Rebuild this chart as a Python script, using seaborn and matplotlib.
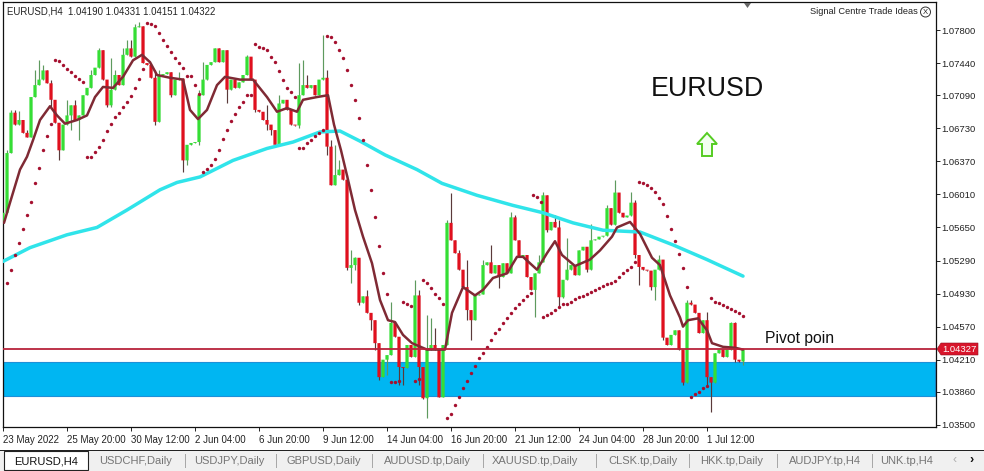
import numpy as np
import pandas as pd
import matplotlib
matplotlib.use("Agg")
import matplotlib.pyplot as plt
from matplotlib.patches import Rectangle, Polygon, Circle
import seaborn as sns

FIRST_OPEN = 1.0570
closes = [
 1.0581,1.0646,1.0690,1.0677,1.0682,1.0668,1.0663,1.0707,1.0720,1.0726,1.0736,1.0722,1.0704,1.0679,1.0649,1.0677,
 1.0687,1.0698,1.0682,1.0687,1.0709,1.0717,1.0731,1.0739,1.0758,1.0726,1.0698,1.0715,1.0731,1.0720,1.0753,1.0760,
 1.0751,1.0783,1.0784,1.0744,1.0742,1.0728,1.0680,1.0731,1.0732,1.0734,1.0709,1.0726,1.0727,1.0638,1.0655,1.0657,
 1.0658,1.0709,1.0726,1.0742,1.0745,1.0760,1.0745,1.0758,1.0715,1.0726,1.0717,1.0723,1.0731,1.0751,1.0726,1.0693,
 1.0691,1.0682,1.0677,1.0671,1.0655,1.0700,1.0704,1.0693,1.0677,1.0676,1.0709,1.0720,1.0717,1.0720,1.0709,1.0726,
 1.0728,1.0653,1.0611,1.0622,1.0628,1.0617,1.0521,1.0524,1.0532,1.0483,1.0490,1.0472,1.0464,1.0439,1.0402,1.0421,
 1.0426,1.0461,1.0446,1.0413,1.0412,1.0437,1.0424,1.0491,1.0413,1.0379,1.0432,1.0437,1.0432,1.0380,1.0437,1.0570,
 1.0551,1.0537,1.0519,1.0500,1.0475,1.0464,1.0491,1.0492,1.0524,1.0527,1.0515,1.0524,1.0511,1.0526,1.0515,1.0576,
 1.0551,1.0533,1.0535,1.0511,1.0497,1.0515,1.0527,1.0600,1.0562,1.0571,1.0565,1.0489,1.0508,1.0519,1.0524,1.0513,
 1.0540,1.0544,1.0519,1.0551,1.0552,1.0555,1.0556,1.0586,1.0568,1.0603,1.0581,1.0576,1.0578,1.0592,1.0535,1.0522,
 1.0519,1.0518,1.0500,1.0519,1.0530,1.0445,1.0437,1.0448,1.0453,1.0432,1.0396,1.0483,1.0481,1.0472,1.0450,1.0464,
 1.0402,1.0396,1.0428,1.0432,1.0424,1.0432,1.0461,1.0421,1.04190,1.04322]

high_bars = [1,2,3,4,6,8,9,10,12,16,18,22,24,25,27,28,30,31,32,33,34,38,39,44,45,49,50,53,56,61,66,69,74,75,76,80,81,
             82,83,84,86,87,88,91,97,103,104,106,107,108,111,112,114,116,120,122,127,128,134,135,136,138,139,141,147,
             151,153,154,157,158,164,171,172,176,182,183,185]
high_vals = [1.0649,1.0693,1.0693,1.0692,1.0671,1.0736,1.0747,1.0742,1.0726,1.0704,1.0704,1.0736,1.0760,1.0758,1.0750,
             1.0736,1.0760,1.0769,1.0769,1.0787,1.0789,1.0736,1.0736,1.0734,1.0728,1.0715,1.0745,1.0755,1.0758,1.0753,
             1.0698,1.0709,1.0744,1.0747,1.0731,1.0775,1.0736,1.0660,1.0655,1.0638,1.0622,1.0540,1.0533,1.0497,1.0484,
             1.0508,1.0497,1.0470,1.0466,1.0455,1.0573,1.0603,1.0540,1.0530,1.0530,1.0546,1.0582,1.0579,1.0535,1.0604,
             1.0586,1.0579,1.0573,1.0553,1.0569,1.0589,1.0617,1.0600,1.0604,1.0595,1.0535,1.0486,1.0486,1.0473,1.0462,1.0462,1.04331]

low_bars = [6,7,12,14,15,17,19,26,27,38,42,45,46,49,56,63,66,67,68,69,74,81,86,87,88,89,92,93,94,96,99,100,104,105,106,
            109,116,117,124,133,136,139,140,146,158,159,162,163,165,170,176,177,183,185]
low_vals = [1.0663,1.0663,1.0695,1.0638,1.0649,1.0671,1.0660,1.0696,1.0696,1.0677,1.0707,1.0625,1.0633,1.0655,1.0700,
            1.0691,1.0671,1.0666,1.0654,1.0654,1.0673,1.0644,1.0519,1.0504,1.0519,1.0481,1.0453,1.0432,1.0399,1.0404,
            1.0393,1.0393,1.0393,1.0378,1.0357,1.0380,1.0464,1.0442,1.0499,1.0467,1.0560,1.0477,1.0488,1.0516,1.0532,
            1.0502,1.0497,1.0486,1.0442,1.0393,1.0393,1.0364,1.0418,1.04151]

ma_bars = [0.25,1.75,4.25,6,7.5,9.25,11.75,13.5,15.5,18.5,21,23,25,27.5,30,32.5,34.75,36.75,38.5,41.75,45,46.75,48.75,51,
           53.5,55.5,59.25,62.5,66,68.5,71,73.5,75,78.5,81.25,82.75,84.5,86.25,88,90,92.25,94.25,96.25,98,100,102.25,
           106,110.5,112.25,115,118,120,122.5,126,128.5,130,133.5,136,138,139.75,143,146.75,149.25,152.25,153.5,156.75,
           159.25,162.25,164.25,166.75,169.25,170,171.25,173.75,176,177.25,180,183,185]
ma_vals = [1.0570,1.0592,1.0628,1.0642,1.0660,1.0682,1.0697,1.0687,1.0678,1.0682,1.0687,1.0707,1.0718,1.0717,1.0729,1.0747,
           1.0753,1.0745,1.0731,1.0728,1.0726,1.0693,1.0683,1.0693,1.0720,1.0729,1.0726,1.0726,1.0707,1.0691,1.0695,1.0691,
           1.0704,1.0707,1.0709,1.0677,1.0649,1.0617,1.0584,1.0555,1.0526,1.0486,1.0464,1.0462,1.0448,1.0439,1.0432,1.0432,
           1.0472,1.0500,1.0491,1.0497,1.0510,1.0515,1.0533,1.0533,1.0519,1.0537,1.0550,1.0535,1.0523,1.0530,1.0540,1.0555,
           1.0565,1.0571,1.0558,1.0532,1.0524,1.0491,1.0467,1.0457,1.0464,1.0466,1.0453,1.0439,1.0435,1.0434,1.0432]

slow_bars = [0,6.75,16,23.5,31,39.25,43.5,49.25,57.5,66,72.5,79.25,84.25,89.25,95.5,103.5,109.75,118.5,127.5,135,142.5,150,
             159.25,167.5,176,185]
slow_vals = [1.0528,1.0543,1.0557,1.0565,1.0584,1.0606,1.0614,1.0620,1.0638,1.0651,1.0658,1.0669,1.0670,1.0659,1.0644,1.0628,
             1.0613,1.0600,1.0589,1.0581,1.0570,1.0562,1.0560,1.0546,1.0530,1.0512]

sar_starts = [1,13,21,36,50,63,74,81,97,100,103,105,111,132.5,135,159,172,177]
sar_runs = [
 [1.0504,1.0519,1.0535,1.0548,1.0563,1.0579,1.0593,1.0613,1.0630,1.0649,1.0665,1.0678],
 [1.0747,1.0746,1.0742,1.0738,1.0734,1.0730,1.0727,1.0723],
 [1.0642,1.0642,1.0647,1.0653,1.0660,1.0670,1.0678,1.0685,1.0690,1.0696,1.0702,1.0708,1.0717,1.0727,1.0738],
 [1.0788,1.0787,1.0784,1.0777,1.0769,1.0763,1.0756,1.0750,1.0744,1.0739,1.0730,1.0730,1.0720,1.0710],
 [1.0625,1.0629,1.0633,1.0640,1.0649,1.0661,1.0671,1.0681,1.0689,1.0696,1.0702,1.0709,1.0709],
 [1.0765,1.0761,1.0760,1.0758,1.0751,1.0745,1.0735,1.0726,1.0717,1.0712,1.0707],
 [1.0651,1.0651,1.0657,1.0660,1.0665,1.0668,1.0671],
 [1.0773,1.0772,1.0767,1.0758,1.0750,1.0736,1.0720,1.0704,1.0684,1.0660,1.0633,1.0606,1.0576,1.0545,1.0515,1.0492],
 [1.0397,1.0397,1.0398],
 [1.0484,1.0482,1.0479],
 [1.0398,1.0400],
 [1.0508,1.0504,1.0499,1.0492,1.0488,1.0482],
 [1.0357,1.0362,1.0372,1.0380,1.0390,1.0398,1.0406,1.0414,1.0423,1.0428,1.0435,1.0442,1.0450,1.0454,1.0461,1.0466,1.0472,
  1.0477,1.0482,1.0486,1.0490,1.0494],
 [1.0600,1.0598,1.0593],
 [1.0467,1.0470,1.0472,1.0475,1.0478,1.0482,1.0482,1.0484,1.0487,1.0489,1.0490,1.0493,1.0495,1.0497,1.0499,1.0501,1.0503,
  1.0504,1.0507,1.0511,1.0515,1.0519,1.0522,1.0527],
 [1.0614,1.0613,1.0611,1.0608,1.0604,1.0597,1.0590,1.0578,1.0563,1.0550,1.0536,1.0521,1.0500],
 [1.0380,1.0384,1.0386,1.0390,1.0392],
 [1.0488,1.0484,1.0483,1.0481,1.0478,1.0476,1.0474,1.0472,1.0469],
]

pivot = 1.04327
zone_low, zone_high = 1.0381, 1.0419
price_ticks = [1.0780,1.0744,1.0709,1.0673,1.0637,1.0601,1.0565,1.0529,1.0493,1.0457,1.0421,1.0386,1.0350]
price_labels = ["1.07800","1.07440","1.07090","1.06730","1.06370","1.06010","1.05650","1.05290","1.04930","1.04570",
                "1.04210","1.03860","1.03500"]
date_labels = ["23 May 2022","25 May 20:00","30 May 12:00","2 Jun 04:00","6 Jun 20:00","9 Jun 12:00","14 Jun 04:00",
               "16 Jun 20:00","21 Jun 12:00","24 Jun 04:00","28 Jun 20:00","1 Jul 12:00"]
date_bars = [0,16,32,48,64,80,96,112,128,144,160,176]
tab_labels = ["USDCHF,Daily","USDJPY,Daily","GBPUSD,Daily","AUDUSD.tp,Daily","XAUUSD.tp,Daily","CLSK.tp,Daily",
              "HKK.tp,Daily","AUDJPY.tp,H4","UNK.tp,H4"]
tab_centres = [136,229,324,427,535,643,732,825,907]
tab_seps = [185,276,372,483,596,689,777,872]

sns.set_theme(style="white")
plt.rcParams["font.family"] = ["Liberation Sans", "DejaVu Sans"]

W, H = 984, 471
fig = plt.figure(figsize=(W/100, H/100), dpi=100, facecolor="white")
L, R, T, B = 2.5, 936, 2, 427
ax = fig.add_axes([L/W, (H-B)/H, (R-L)/W, (B-T)/H])
ax.set_xlim(-0.125, 233.25)
ax.set_ylim(1.03477, 1.08105)

def fx(x): return x/W
def fy(y): return 1-y/H

# demand zone and pivot
ax.axhspan(zone_low, zone_high, xmin=0.001, xmax=0.9985, facecolor="#00B6F2", edgecolor="#1E90D8", lw=0.8, zorder=1)

# candles
c = np.array(closes)
o = np.r_[FIRST_OPEN, c[:-1]]
o[-1] = 1.04190
idx = np.arange(len(c))
hi = np.maximum(o, c); lo = np.minimum(o, c)
hi[high_bars] = np.maximum(hi[high_bars], high_vals)
lo[low_bars] = np.minimum(lo[low_bars], low_vals)
up = c >= o
ax.vlines(idx[up], lo[up], hi[up], color="#5E9A5E", lw=0.85, zorder=2)
ax.vlines(idx[~up], lo[~up], hi[~up], color="#5A3A3A", lw=0.85, zorder=2)
bull = ax.bar(idx[up], (c-o)[up], bottom=o[up], width=0.8, color="#35DE35", lw=0, zorder=3)
bear = ax.bar(idx[~up], (c-o)[~up], bottom=o[~up], width=0.8, color="#E0101E", lw=0, zorder=3)
for p in list(bull) + list(bear):
    p.set_snap(False)

# indicators
sns.lineplot(x=slow_bars, y=slow_vals, ax=ax, color="#30E4EA", lw=2.5, estimator=None, zorder=4)
sns.lineplot(x=ma_bars, y=ma_vals, ax=ax, color="#7F2A34", lw=1.8, estimator=None, zorder=5)
sar_x, sar_y = [], []
for s, run in zip(sar_starts, sar_runs):
    sar_x += [s + k for k in range(len(run))]
    sar_y += run
sns.scatterplot(x=sar_x, y=sar_y, ax=ax, color="#A5102F", s=6, linewidth=0, zorder=6)

ax.axhline(pivot, color="#B8233A", lw=1.3, zorder=7)

# axes
ax.yaxis.tick_right()
ax.set_yticks(price_ticks); ax.set_yticklabels(price_labels)
ax.set_xticks(date_bars); ax.set_xticklabels(date_labels, ha="left")
ax.tick_params(axis="y", length=3, width=0.7, pad=1, labelsize=6.8, colors="#222222", right=True)
ax.tick_params(axis="x", length=3, width=0.7, pad=3, labelsize=7.0, colors="#222222", bottom=True)
for sp in ax.spines.values():
    sp.set_visible(True); sp.set_color("#111111"); sp.set_linewidth(0.9)
ax.set_xlabel(""); ax.set_ylabel("")
ax.grid(False)

# annotations
fig.text(fx(7), fy(11), "EURUSD,H4  1.04190 1.04331 1.04151 1.04322", fontsize=6.9, color="#222222", va="center")
fig.text(fx(918), fy(12), "Signal Centre Trade Ideas", fontsize=6.7, color="#222222", va="center", ha="right")
fig.text(fx(925.5), fy(12), "X", fontsize=5.5, color="#222222", va="center", ha="center")
fig.add_artist(Circle((925.5, H-12), 5, transform=None, fill=False, ec="#333333", lw=0.7))
fig.text(fx(707), fy(88.5), "EURUSD", fontsize=19.3, color="#111111", va="center", ha="center")
fig.text(fx(799.5), fy(338), "Pivot poin", fontsize=11.3, color="#111111", va="center", ha="center")

# green hollow arrow
arrow = [(707,133),(717,144),(712,144),(712,156),(702,156),(702,144),(697,144)]
fig.add_artist(Polygon([(x, H-y) for x, y in arrow], closed=True, transform=None, facecolor="#F2FFF0",
                       edgecolor="#55CC22", lw=1.4))
# small marker at the top
fig.add_artist(Polygon([(744, H-3),(751, H-3),(747.5, H-8)], closed=True, transform=None, facecolor="#666666", edgecolor="none"))

# current price flag
fig.add_artist(Polygon([(937, H-349),(941, H-343),(978, H-343),(978, H-355),(941, H-355)], closed=True, transform=None,
                       facecolor="#D8152B", edgecolor="#901020", lw=0.4, zorder=8))
fig.text(fx(959), fy(349), "1.04327", fontsize=6.8, color="white", va="center", ha="center", zorder=9)

# tab strip
fig.add_artist(Rectangle((0, 0), W, H-450.5, transform=None, facecolor="#F0F0F0", edgecolor="none"))
fig.add_artist(Rectangle((0, H-450.5), W, 1, transform=None, facecolor="#222222", edgecolor="none"))
fig.add_artist(Rectangle((4, H-470), 84, 19.5, transform=None, facecolor="white", edgecolor="#222222", lw=0.8))
fig.text(fx(46), fy(461), "EURUSD,H4", fontsize=8, color="#111111", va="center", ha="center")
for t, cx in zip(tab_labels, tab_centres):
    fig.text(fx(cx), fy(461), t, fontsize=8, color="#757575", va="center", ha="center")
for sx in tab_seps:
    fig.add_artist(Rectangle((sx, H-468), 1, 14, transform=None, facecolor="#A8A8A8", edgecolor="none"))
fig.text(fx(955), fy(460), "\u2039", fontsize=9, color="#B0B0B0", va="center", ha="center")
fig.text(fx(972), fy(460), "\u203A", fontsize=9, color="#111111", va="center", ha="center", fontweight="bold")

fig.savefig("out.png", dpi=100, facecolor="white")
